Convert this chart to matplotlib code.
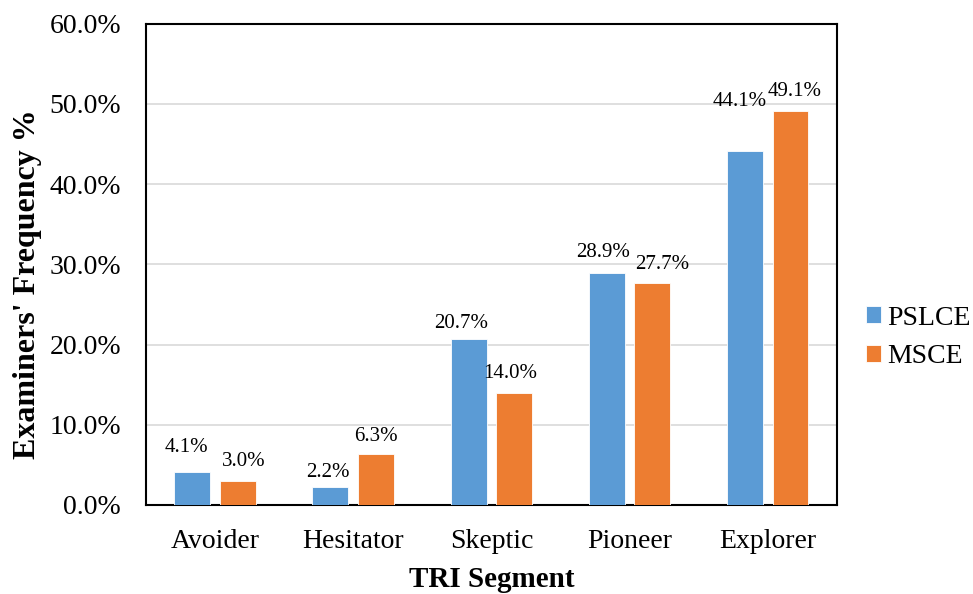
import matplotlib.pyplot as plt
import numpy as np

plt.rcParams["font.family"] = ["Liberation Serif", "DejaVu Serif"]

segments = ["Avoider", "Hesitator", "Skeptic", "Pioneer", "Explorer"]
pslce = [4.1, 2.2, 20.7, 28.9, 44.1]
msce = [3.0, 6.3, 14.0, 27.7, 49.1]
series_names = ["PSLCE", "MSCE"]
colors = ["#5B9BD5", "#ED7D31"]

# label nudges (points) so neighbouring labels don't collide
label_nudge = {
    0: [(-4, 11), (-2, 4), (-5, 4), (-3, 8), (-4, 29)],
    1: [(4, 7), (0, 6), (-3, 7), (7, 6), (3, 7)],
}


def main():
    fig = plt.figure(figsize=(9.73, 5.94), dpi=100)
    ax = fig.add_axes([0.150, 0.150, 0.710, 0.810])

    x = np.arange(len(segments))
    width = 0.26
    offset = 0.165
    for i, (vals, off, name, color) in enumerate(
            zip([pslce, msce], [-offset, offset], series_names, colors)):
        bars = ax.bar(x + off, vals, width, color=color, edgecolor="white",
                      linewidth=0.6, label=name, zorder=3)
        for j, (bar, v) in enumerate(zip(bars, vals)):
            ax.annotate(f"{v:.1f}%", (bar.get_x() + bar.get_width() / 2, v),
                        xytext=label_nudge[i][j], textcoords="offset points",
                        ha="center", va="bottom", fontsize=15)

    ax.set_xlim(-0.5, len(segments) - 0.5)
    ax.set_ylim(0, 60)
    ticks = np.arange(0, 61, 10)
    ax.set_yticks(ticks)
    ax.set_yticklabels([f"{t:.1f}%" for t in ticks], fontsize=20)
    ax.set_xticks(x)
    ax.set_xticklabels(segments, fontsize=20)
    ax.tick_params(length=0)
    ax.tick_params(axis="x", pad=17)
    ax.tick_params(axis="y", pad=18)
    ax.grid(axis="y", color="#d9d9d9", linewidth=1.2, zorder=0)
    for s in ax.spines.values():
        s.set_linewidth(1.5)
        s.set_color("black")

    ax.set_xlabel("TRI Segment", fontsize=21, fontweight="bold", labelpad=9)
    ax.set_ylabel("Examiners' Frequency %", fontsize=23, fontweight="bold")
    ax.yaxis.set_label_coords(-0.150, 0.458)

    ax.legend(loc="center left", bbox_to_anchor=(1.0, 0.348), frameon=False,
              fontsize=20, handlelength=0.55, handleheight=0.55, handletextpad=0.2,
              borderaxespad=0.65, labelspacing=0.5)

    fig.savefig("out.png", dpi=100)
    plt.close(fig)


if __name__ == "__main__":
    main()
